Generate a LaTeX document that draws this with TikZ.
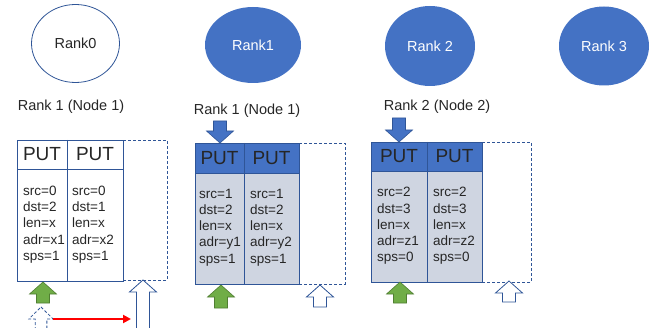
\documentclass[tikz,border=0pt]{standalone}
\usepackage{fontspec}
\setmainfont{Liberation Sans}
\usetikzlibrary{shapes.geometric,arrows.meta}

\definecolor{rankblue}{HTML}{4472C4}
\definecolor{edgeblue}{HTML}{2F5597}
\definecolor{cellgray}{HTML}{CFD5E1}
\definecolor{argreen}{HTML}{70AD47}
\definecolor{argreenedge}{HTML}{507E32}
\definecolor{textgray}{HTML}{262626}

\tikzset{
  pics/blockup/.style={code={
    \draw[pic actions] (0,0) -- (13.5,12) -- (6.5,12) -- (6.5,#1)
      -- (-6.5,#1) -- (-6.5,12) -- (-13.5,12) -- cycle;
  }}
}

\begin{document}
\begin{tikzpicture}[x=1pt,y=-1pt,
    rank/.style={ellipse, inner sep=0pt, font=\fontsize{14.5}{17}\selectfont},
    lbl/.style={inner sep=0pt, text=textgray, font=\fontsize{14.5}{17}\selectfont},
    cell/.style={draw=edgeblue, line width=0.8pt},
    slot/.style={draw=edgeblue, line width=0.8pt, dash pattern=on 3pt off 2pt},
    put/.style={inner sep=0pt, text=textgray, font=\fontsize{19}{22}\selectfont},
    args/.style={anchor=west, align=left, inner sep=0pt, text=textgray,
      font=\fontsize{13.5}{16.2}\selectfont},
    greenarr/.style={fill=argreen, draw=argreenedge, line width=0.6pt},
    bluearr/.style={fill=rankblue, draw=edgeblue, line width=0.6pt},
    whitearr/.style={fill=white, draw=edgeblue, line width=0.8pt},
    redarr/.style={-{Triangle[length=8pt,width=8pt]}, red, line width=2.4pt}]

    \useasboundingbox (0,0) rectangle (652,328);

    % ranks
    \node[rank, draw=edgeblue, line width=0.8pt, fill=white, text=textgray,
      minimum width=88, minimum height=78] (r0) at (75.5,43.5) {Rank0};
    \node[rank, fill=rankblue, text=white,
      minimum width=96, minimum height=76] (r1) at (253,45) {Rank1};
    \node[rank, fill=rankblue, text=white,
      minimum width=90, minimum height=80] (r2) at (430,46) {Rank 2};
    \node[rank, fill=rankblue, text=white,
      minimum width=90, minimum height=79] (r3) at (604,46) {Rank 3};

    \node[lbl] (n0) at (71,107) {Rank 1 (Node 1)};
    \node[lbl] (n1) at (247,111) {Rank 1 (Node 1)};
    \node[lbl] (n2) at (437,107) {Rank 2 (Node 2)};

    % queue of rank 0
    \fill[white] (17,140) rectangle (123,281);
    \draw[cell] (17,140) rectangle (123,281);
    \draw[cell] (17,169) -- (123,169);
    \draw[cell] (67,140) -- (67,281);
    \draw[slot] (123,140) -- (167,140) -- (167,280) -- (123,280);
    \node[put] (p0a) at (42,154.5) {PUT};
    \node[put] (p0b) at (95,154.5) {PUT};
    \node[args] (a0a) at (23,224.5) {src=0\\dst=2\\len=x\\adr=x1\\sps=1};
    \node[args] (a0b) at (72,224.5) {src=0\\dst=1\\len=x\\adr=x2\\sps=1};

    % queue of rank 1
    \fill[cellgray] (195,173) rectangle (299,284);
    \fill[rankblue] (195,143) rectangle (299,173);
    \draw[cell] (195,143) rectangle (299,284);
    \draw[cell] (195,173) -- (299,173);
    \draw[cell] (244,143) -- (244,284);
    \draw[slot] (299,143) -- (345,143) -- (345,284) -- (299,284);
    \node[put] (p1a) at (219.5,158) {PUT};
    \node[put] (p1b) at (271.5,158) {PUT};
    \node[args] (a1a) at (199,227.5) {src=1\\dst=2\\len=x\\adr=y1\\sps=1};
    \node[args] (a1b) at (250,227.5) {src=1\\dst=2\\len=x\\adr=y2\\sps=1};

    % queue of rank 2
    \fill[cellgray] (371,171) rectangle (482,282);
    \fill[rankblue] (371,142) rectangle (482,171);
    \draw[cell] (371,142) rectangle (482,282);
    \draw[cell] (371,171) -- (482,171);
    \draw[cell] (427,142) -- (427,282);
    \draw[slot] (482,142) -- (531,142) -- (531,282) -- (482,282);
    \node[put] (p2a) at (399,156.5) {PUT};
    \node[put] (p2b) at (454.5,156.5) {PUT};
    \node[args] (a2a) at (377,226) {src=2\\dst=3\\len=x\\adr=z1\\sps=0};
    \node[args] (a2b) at (433,226) {src=2\\dst=3\\len=x\\adr=z2\\sps=0};

    % head and tail pointers
    \pic[bluearr, yscale=-1] at (220,143) {blockup=22};
    \pic[bluearr, yscale=-1] at (399,142) {blockup=24};

    \pic[greenarr] at (43,282) {blockup=21};
    \pic[greenarr] at (221,285) {blockup=23};
    \pic[greenarr] at (400,282) {blockup=21};

    \pic[whitearr] at (143,280) {blockup=60};
    \pic[whitearr] at (320,285) {blockup=22};
    \pic[whitearr] at (509,281) {blockup=21};

    \pic[whitearr, dash pattern=on 3pt off 2pt, xscale=0.9] at (41,307) {blockup=40};

    \coordinate (s0) at (53,319);
    \coordinate (t0) at (131,319);
    \draw[redarr] (s0) -- (t0);
\end{tikzpicture}
\end{document}
